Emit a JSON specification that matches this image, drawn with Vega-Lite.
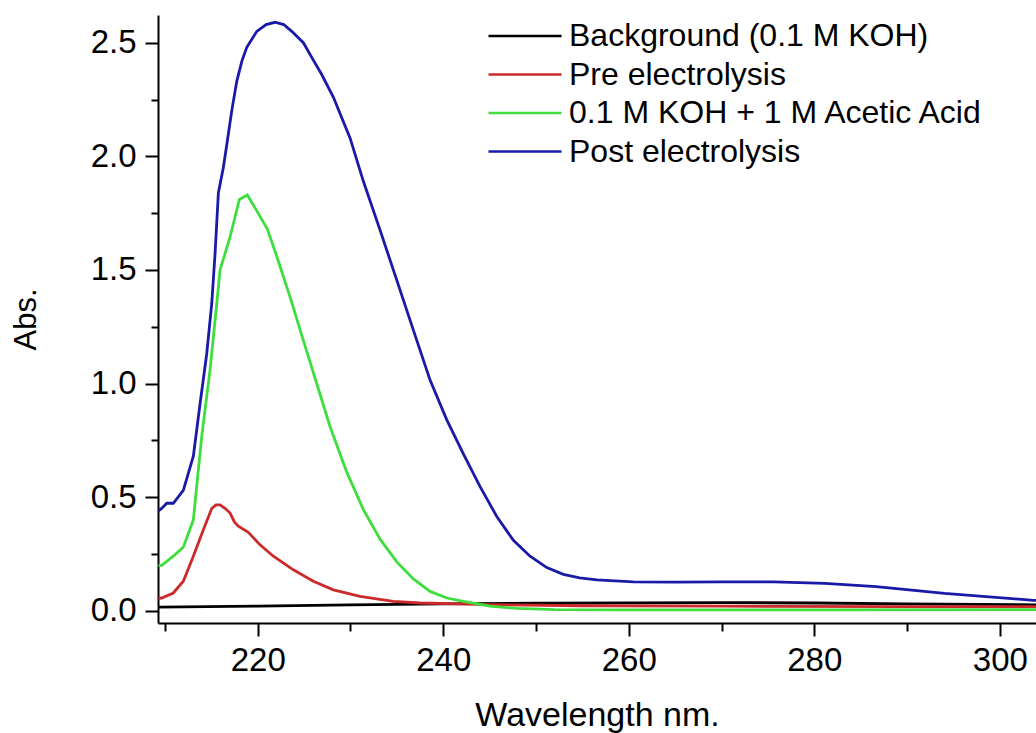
{
  "$schema": "https://vega.github.io/schema/vega-lite/v6.json",
  "width": 878,
  "height": 608,
  "autosize": "none",
  "padding": {"left": 158, "top": 15, "right": 0, "bottom": 110},
  "background": "white",
  "config": {"view": {"stroke": null}, "font": "Liberation Sans"},
  "data": {"values": [
    {"s": "Background (0.1 M KOH)", "x": 209.3, "y": 0.016},
    {"s": "Background (0.1 M KOH)", "x": 220, "y": 0.02},
    {"s": "Background (0.1 M KOH)", "x": 230, "y": 0.026},
    {"s": "Background (0.1 M KOH)", "x": 240, "y": 0.03},
    {"s": "Background (0.1 M KOH)", "x": 250, "y": 0.033},
    {"s": "Background (0.1 M KOH)", "x": 260, "y": 0.035},
    {"s": "Background (0.1 M KOH)", "x": 270, "y": 0.036},
    {"s": "Background (0.1 M KOH)", "x": 280, "y": 0.034},
    {"s": "Background (0.1 M KOH)", "x": 290, "y": 0.03},
    {"s": "Background (0.1 M KOH)", "x": 304, "y": 0.026},

    {"s": "Pre electrolysis", "x": 209.3, "y": 0.055},
    {"s": "Pre electrolysis", "x": 209.65, "y": 0.056},
    {"s": "Pre electrolysis", "x": 210.9, "y": 0.078},
    {"s": "Pre electrolysis", "x": 211.98, "y": 0.13},
    {"s": "Pre electrolysis", "x": 213.06, "y": 0.24},
    {"s": "Pre electrolysis", "x": 214.14, "y": 0.356},
    {"s": "Pre electrolysis", "x": 215.04, "y": 0.45},
    {"s": "Pre electrolysis", "x": 215.5, "y": 0.466},
    {"s": "Pre electrolysis", "x": 215.94, "y": 0.466},
    {"s": "Pre electrolysis", "x": 216.5, "y": 0.45},
    {"s": "Pre electrolysis", "x": 217.02, "y": 0.43},
    {"s": "Pre electrolysis", "x": 217.5, "y": 0.39},
    {"s": "Pre electrolysis", "x": 217.91, "y": 0.372},
    {"s": "Pre electrolysis", "x": 218.99, "y": 0.345},
    {"s": "Pre electrolysis", "x": 220.25, "y": 0.29},
    {"s": "Pre electrolysis", "x": 221.69, "y": 0.24},
    {"s": "Pre electrolysis", "x": 223.84, "y": 0.18},
    {"s": "Pre electrolysis", "x": 226.0, "y": 0.13},
    {"s": "Pre electrolysis", "x": 228.16, "y": 0.092},
    {"s": "Pre electrolysis", "x": 231.03, "y": 0.063},
    {"s": "Pre electrolysis", "x": 234.62, "y": 0.041},
    {"s": "Pre electrolysis", "x": 237.5, "y": 0.034},
    {"s": "Pre electrolysis", "x": 245, "y": 0.027},
    {"s": "Pre electrolysis", "x": 255, "y": 0.022},
    {"s": "Pre electrolysis", "x": 270, "y": 0.02},
    {"s": "Pre electrolysis", "x": 290, "y": 0.018},
    {"s": "Pre electrolysis", "x": 304, "y": 0.018},

    {"s": "0.1 M KOH + 1 M Acetic Acid", "x": 209.3, "y": 0.2},
    {"s": "0.1 M KOH + 1 M Acetic Acid", "x": 209.65, "y": 0.2},
    {"s": "0.1 M KOH + 1 M Acetic Acid", "x": 210.9, "y": 0.24},
    {"s": "0.1 M KOH + 1 M Acetic Acid", "x": 211.98, "y": 0.28},
    {"s": "0.1 M KOH + 1 M Acetic Acid", "x": 213.06, "y": 0.4},
    {"s": "0.1 M KOH + 1 M Acetic Acid", "x": 213.97, "y": 0.77},
    {"s": "0.1 M KOH + 1 M Acetic Acid", "x": 214.86, "y": 1.06},
    {"s": "0.1 M KOH + 1 M Acetic Acid", "x": 215.58, "y": 1.35},
    {"s": "0.1 M KOH + 1 M Acetic Acid", "x": 215.94, "y": 1.5},
    {"s": "0.1 M KOH + 1 M Acetic Acid", "x": 217.02, "y": 1.645},
    {"s": "0.1 M KOH + 1 M Acetic Acid", "x": 218.02, "y": 1.81},
    {"s": "0.1 M KOH + 1 M Acetic Acid", "x": 218.88, "y": 1.83},
    {"s": "0.1 M KOH + 1 M Acetic Acid", "x": 219.9, "y": 1.76},
    {"s": "0.1 M KOH + 1 M Acetic Acid", "x": 221.04, "y": 1.68},
    {"s": "0.1 M KOH + 1 M Acetic Acid", "x": 222.05, "y": 1.56},
    {"s": "0.1 M KOH + 1 M Acetic Acid", "x": 223.49, "y": 1.38},
    {"s": "0.1 M KOH + 1 M Acetic Acid", "x": 224.92, "y": 1.19},
    {"s": "0.1 M KOH + 1 M Acetic Acid", "x": 226.36, "y": 1.0},
    {"s": "0.1 M KOH + 1 M Acetic Acid", "x": 227.8, "y": 0.81},
    {"s": "0.1 M KOH + 1 M Acetic Acid", "x": 229.6, "y": 0.61},
    {"s": "0.1 M KOH + 1 M Acetic Acid", "x": 231.39, "y": 0.445},
    {"s": "0.1 M KOH + 1 M Acetic Acid", "x": 233.19, "y": 0.315},
    {"s": "0.1 M KOH + 1 M Acetic Acid", "x": 234.99, "y": 0.215},
    {"s": "0.1 M KOH + 1 M Acetic Acid", "x": 236.78, "y": 0.14},
    {"s": "0.1 M KOH + 1 M Acetic Acid", "x": 238.58, "y": 0.085},
    {"s": "0.1 M KOH + 1 M Acetic Acid", "x": 240.38, "y": 0.056},
    {"s": "0.1 M KOH + 1 M Acetic Acid", "x": 242.17, "y": 0.041},
    {"s": "0.1 M KOH + 1 M Acetic Acid", "x": 243.25, "y": 0.034},
    {"s": "0.1 M KOH + 1 M Acetic Acid", "x": 245, "y": 0.02},
    {"s": "0.1 M KOH + 1 M Acetic Acid", "x": 248, "y": 0.01},
    {"s": "0.1 M KOH + 1 M Acetic Acid", "x": 252, "y": 0.005},
    {"s": "0.1 M KOH + 1 M Acetic Acid", "x": 260, "y": 0.004},
    {"s": "0.1 M KOH + 1 M Acetic Acid", "x": 280, "y": 0.004},
    {"s": "0.1 M KOH + 1 M Acetic Acid", "x": 304, "y": 0.005},

    {"s": "Post electrolysis", "x": 209.3, "y": 0.44},
    {"s": "Post electrolysis", "x": 209.65, "y": 0.45},
    {"s": "Post electrolysis", "x": 210.19, "y": 0.473},
    {"s": "Post electrolysis", "x": 210.9, "y": 0.473},
    {"s": "Post electrolysis", "x": 211.98, "y": 0.53},
    {"s": "Post electrolysis", "x": 213.06, "y": 0.68},
    {"s": "Post electrolysis", "x": 213.78, "y": 0.91},
    {"s": "Post electrolysis", "x": 214.5, "y": 1.13},
    {"s": "Post electrolysis", "x": 215.04, "y": 1.35},
    {"s": "Post electrolysis", "x": 215.4, "y": 1.57},
    {"s": "Post electrolysis", "x": 215.76, "y": 1.84},
    {"s": "Post electrolysis", "x": 216.29, "y": 1.95},
    {"s": "Post electrolysis", "x": 216.66, "y": 2.05},
    {"s": "Post electrolysis", "x": 217.2, "y": 2.2},
    {"s": "Post electrolysis", "x": 217.74, "y": 2.33},
    {"s": "Post electrolysis", "x": 218.3, "y": 2.42},
    {"s": "Post electrolysis", "x": 218.82, "y": 2.48},
    {"s": "Post electrolysis", "x": 219.9, "y": 2.55},
    {"s": "Post electrolysis", "x": 220.9, "y": 2.58},
    {"s": "Post electrolysis", "x": 221.87, "y": 2.59},
    {"s": "Post electrolysis", "x": 222.8, "y": 2.58},
    {"s": "Post electrolysis", "x": 223.67, "y": 2.55},
    {"s": "Post electrolysis", "x": 224.92, "y": 2.5},
    {"s": "Post electrolysis", "x": 225.9, "y": 2.43},
    {"s": "Post electrolysis", "x": 226.9, "y": 2.36},
    {"s": "Post electrolysis", "x": 228.16, "y": 2.26},
    {"s": "Post electrolysis", "x": 229.96, "y": 2.08},
    {"s": "Post electrolysis", "x": 231.39, "y": 1.89},
    {"s": "Post electrolysis", "x": 233.19, "y": 1.675},
    {"s": "Post electrolysis", "x": 234.99, "y": 1.455},
    {"s": "Post electrolysis", "x": 236.78, "y": 1.235},
    {"s": "Post electrolysis", "x": 238.58, "y": 1.015},
    {"s": "Post electrolysis", "x": 240.38, "y": 0.84},
    {"s": "Post electrolysis", "x": 242.17, "y": 0.69},
    {"s": "Post electrolysis", "x": 243.97, "y": 0.546},
    {"s": "Post electrolysis", "x": 245.77, "y": 0.415},
    {"s": "Post electrolysis", "x": 247.56, "y": 0.31},
    {"s": "Post electrolysis", "x": 249.36, "y": 0.24},
    {"s": "Post electrolysis", "x": 251.16, "y": 0.19},
    {"s": "Post electrolysis", "x": 252.95, "y": 0.16},
    {"s": "Post electrolysis", "x": 254.7, "y": 0.145},
    {"s": "Post electrolysis", "x": 256.55, "y": 0.136},
    {"s": "Post electrolysis", "x": 260.5, "y": 0.127},
    {"s": "Post electrolysis", "x": 265, "y": 0.126},
    {"s": "Post electrolysis", "x": 270, "y": 0.127},
    {"s": "Post electrolysis", "x": 275.6, "y": 0.127},
    {"s": "Post electrolysis", "x": 281.15, "y": 0.12},
    {"s": "Post electrolysis", "x": 286.67, "y": 0.106},
    {"s": "Post electrolysis", "x": 294.04, "y": 0.076},
    {"s": "Post electrolysis", "x": 303.63, "y": 0.046},
    {"s": "Post electrolysis", "x": 304, "y": 0.045}
  ]},
  "mark": {"type": "line", "strokeWidth": 2.8, "clip": true, "interpolate": "linear"},
  "encoding": {
    "x": {
      "field": "x", "type": "quantitative",
      "scale": {"domain": [209.25, 303.9], "nice": false, "zero": false},
      "axis": {
        "title": "Wavelength nm.",
        "values": [210, 220, 230, 240, 250, 260, 270, 280, 290, 300],
        "labelExpr": "datum.value % 20 === 0 ? datum.label : ''",
        "tickSize": {"condition": {"test": "datum.value % 20 === 0", "value": 13}, "value": 8},
        "grid": false,
        "domainColor": "black", "domainWidth": 2,
        "tickColor": "black", "tickWidth": 2,
        "labelFontSize": 33, "labelColor": "black", "labelFont": "Liberation Sans",
        "labelPadding": 8, "labelFlush": false, "labelOverlap": false, "labelBound": false,
        "titleFontSize": 34, "titleFontWeight": "normal", "titleColor": "black", "titleFont": "Liberation Sans",
        "titlePadding": 21
      }
    },
    "y": {
      "field": "y", "type": "quantitative",
      "scale": {"domain": [-0.054, 2.622], "nice": false, "zero": false},
      "axis": {
        "title": "Abs.",
        "values": [0, 0.25, 0.5, 0.75, 1, 1.25, 1.5, 1.75, 2, 2.25, 2.5],
        "labelExpr": "abs(datum.value*2 - round(datum.value*2)) < 0.001 ? format(datum.value, '.1f') : ''",
        "tickSize": {"condition": {"test": "abs(datum.value*2 - round(datum.value*2)) < 0.001", "value": 13}, "value": 7},
        "grid": false,
        "domainColor": "black", "domainWidth": 2,
        "tickColor": "black", "tickWidth": 2,
        "labelFontSize": 33, "labelColor": "black", "labelFont": "Liberation Sans",
        "labelPadding": 9, "labelFlush": false, "labelOverlap": false, "labelBound": false,
        "titleFontSize": 31, "titleFontWeight": "normal", "titleColor": "black", "titleFont": "Liberation Sans",
        "titlePadding": 48
      }
    },
    "color": {
      "field": "s", "type": "nominal",
      "scale": {
        "domain": ["Background (0.1 M KOH)", "Pre electrolysis", "0.1 M KOH + 1 M Acetic Acid", "Post electrolysis"],
        "range": ["#000000", "#cc2a2a", "#3ede3e", "#1a1aa8"]
      },
      "legend": {
        "title": null,
        "orient": "none",
        "legendX": 329,
        "legendY": 2,
        "symbolType": "stroke",
        "symbolSize": 5329,
        "symbolStrokeWidth": 2.5,
        "labelFontSize": 32,
        "labelFont": "Liberation Sans",
        "labelColor": "black",
        "clipHeight": 38,
        "rowPadding": 0.5,
        "labelOffset": 6,
        "padding": 0,
        "labelLimit": 600
      }
    }
  }
}
